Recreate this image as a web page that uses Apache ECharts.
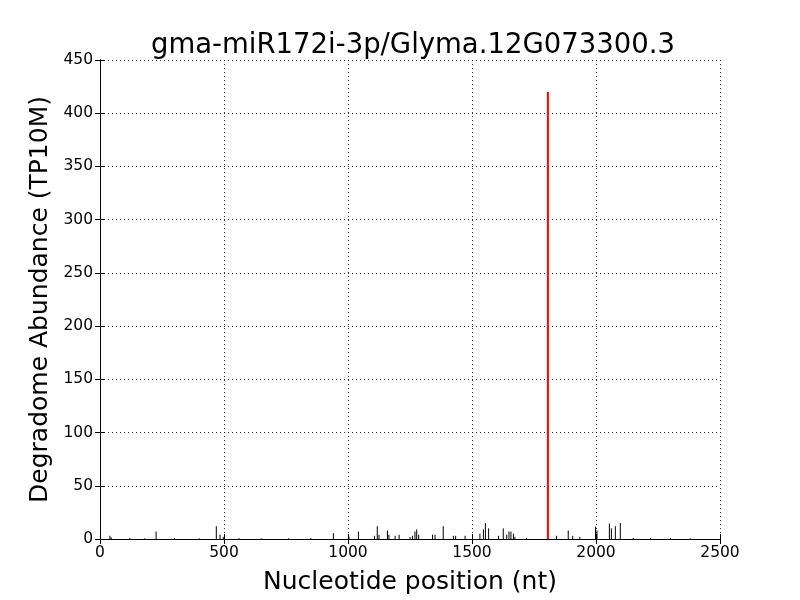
<!DOCTYPE html>
<html>
<head>
<meta charset="utf-8">
<script src="https://cdn.jsdelivr.net/npm/echarts@6/dist/echarts.min.js"></script>
<style>
  html, body { margin: 0; padding: 0; background: #fff; }
  #chart { width: 800px; height: 600px; }
</style>
</head>
<body>
<div id="chart"></div>
<script>
// degradome reads: position (nt) and abundance (TP10M)
const positions = [40, 45, 120, 180, 226, 300, 400, 469, 484, 497, 560, 650, 760, 850, 941, 1004, 1042,
  1107, 1118, 1125, 1159, 1165, 1190, 1206, 1250, 1260, 1270, 1277, 1285, 1341, 1351, 1384,
  1425, 1434, 1472, 1532, 1546, 1554, 1567, 1607, 1626, 1640, 1649, 1657, 1667, 1673, 1720,
  1841, 1888, 1906, 1935, 1998, 2004, 2054, 2062, 2078, 2098, 2150, 2220, 2300, 2380];
const abundance = [3, 1.5, 0.8, 0.6, 7, 0.6, 0.6, 12, 4, 2, 0.8, 0.6, 0.6, 0.8, 5.5, 2, 7,
  3, 12, 4, 8, 4, 3, 4, 2, 3, 7, 9, 4, 4, 4, 12,
  3, 3, 3, 5, 9, 15, 10, 3, 10, 4, 7, 7, 5, 2, 1,
  3, 8, 3, 2, 11.5, 8, 14.5, 10, 12, 15, 1, 1, 0.8, 0.6];
// cleavage site of the miRNA
const sitePosition = 1806;
const siteAbundance = 420;

const reads = positions.map((p, i) => [p, abundance[i]]);

function stick(color, width) {
  return function (params, api) {
    const top = api.coord([api.value(0), api.value(1)]);
    const base = api.coord([api.value(0), 0]);
    return {
      type: 'line',
      shape: { x1: top[0], y1: top[1], x2: base[0], y2: base[1] },
      style: { stroke: color, lineWidth: width }
    };
  };
}

const chart = echarts.init(document.getElementById('chart'));
const font = 'DejaVu Sans';
const axisCommon = {
  type: 'value',
  axisLine: { show: true, lineStyle: { color: '#000', width: 1 } },
  axisTick: { show: true, inside: true, length: 5, lineStyle: { color: '#000' } },
  splitLine: { show: false }
};
const gridLine = { show: true, lineStyle: { color: '#000', type: [1, 3], width: 0.8 } };

chart.setOption({
  animation: false,
  textStyle: { fontFamily: font },
  title: {
    text: 'gma-miR172i-3p/Glyma.12G073300.3',
    left: 408, top: 27, textAlign: 'center',
    textStyle: { fontFamily: font, fontSize: 27.5, fontWeight: 'normal', color: '#000' }
  },
  grid: { left: 100, right: 80, top: 60, bottom: 60 },
  xAxis: [
    Object.assign({}, axisCommon, {
      min: 0, max: 2500, interval: 500,
      name: 'Nucleotide position (nt)', nameLocation: 'middle', nameGap: 31,
      nameTextStyle: { fontFamily: font, fontSize: 25, color: '#000' },
      axisLabel: { fontFamily: font, fontSize: 15.5, color: '#000', margin: 6, formatter: v => String(v) },
      splitLine: gridLine
    }),
    Object.assign({}, axisCommon, {
      position: 'top', min: 0, max: 2500, interval: 500, axisLabel: { show: false }
    })
  ],
  yAxis: [
    Object.assign({}, axisCommon, {
      min: 0, max: 450, interval: 50,
      name: 'Degradome Abundance (TP10M)', nameLocation: 'middle', nameGap: 42,
      nameTextStyle: { fontFamily: font, fontSize: 25, color: '#000' },
      axisLabel: { fontFamily: font, fontSize: 15.5, color: '#000', margin: 7, formatter: v => String(v) },
      splitLine: gridLine
    }),
    Object.assign({}, axisCommon, {
      position: 'right', min: 0, max: 450, interval: 50, axisLabel: { show: false }
    })
  ],
  series: [
    {
      type: 'custom', xAxisIndex: 0, yAxisIndex: 0,
      renderItem: stick('#000', 1),
      encode: { x: 0, y: 1 },
      data: reads
    },
    {
      type: 'custom', xAxisIndex: 0, yAxisIndex: 0,
      renderItem: stick('#ff0000', 2),
      encode: { x: 0, y: 1 },
      data: [[sitePosition, siteAbundance]]
    }
  ]
});
</script>
</body>
</html>
